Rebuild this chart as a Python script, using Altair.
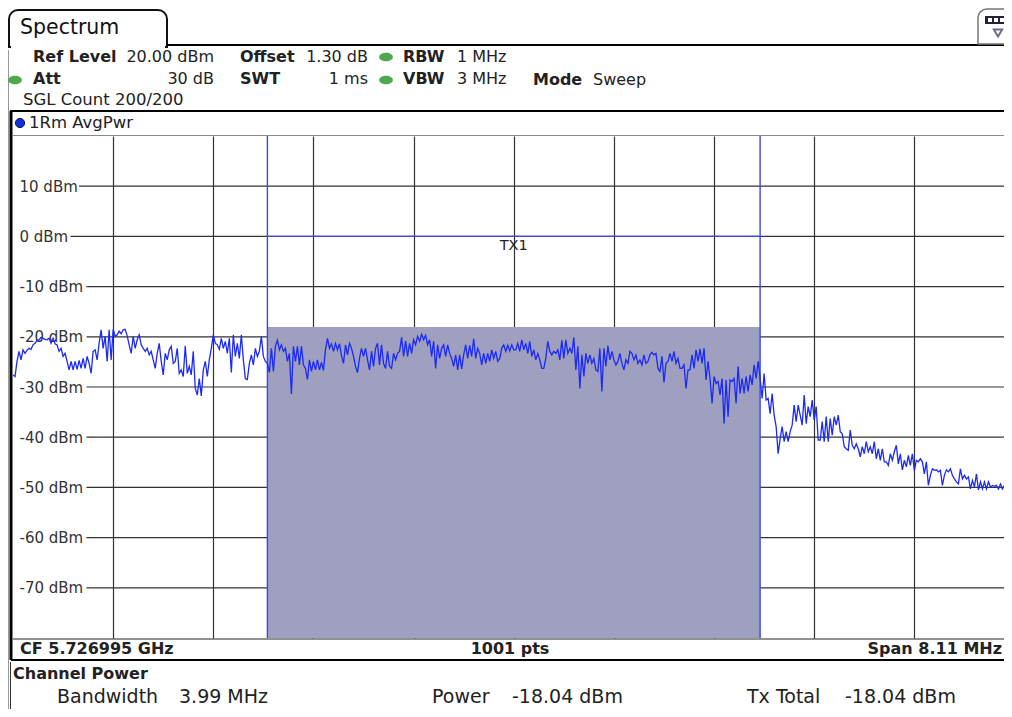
import altair as alt
import pandas as pd

# Sweep samples (every other one of the 1001 points), dBm
trace_a = [-27.6,-27.9,-24.9,-22.9,-24.6,-22.6,-23.3,-22.7,-22.3,-22.5,-21.6,-21.3,-20.7,-20.6,-20.1,-20.3,-20.5,-20.6,-20.3,-21.3,-20.3,-21.4,-21.6,-22.9,-22.3,-23.9,-23.3,-24.9,-26.6,-24.9,-26.6,-24.9,-26.5,-24.7,-26.3,-24.3,-26.3,-23.9,-25.3,-27.3,-22.9,-22.6,-24.6,-21.3,-18.6,-22.3,-19.9,-24.9,-18.6,-24.6,-18.5,-19.9,-19.6,-18.9,-19.4,-18.6,-18.5,-19.8,-21.6,-23.3,-19.9,-22.3,-20.6,-19.6,-21.6,-22.3,-22.9,-22.3,-23.6,-22.9,-24.6,-26.3,-23.3,-21.3,-24.9,-27.6,-23.3,-24.6,-22.6,-21.9,-25.3,-24.9,-22.3,-27.3,-26.6,-27.9]
trace_b = [-21.8,-27.3,-25.9,-27.6,-22.9,-30.3,-31.6,-28.3,-31.8,-26.6,-24.9,-27.9,-24.6,-22.3,-19.6,-21.3,-21.6,-22.5,-20.3,-22.3,-20.9,-23.3,-20.3,-27.1,-19.6,-23.9,-21.3,-24.3,-19.6,-24.6,-28.3,-28.5,-25.3,-23.6,-25.6,-22.3,-23.9,-22.9,-19.9,-23.9,-24.9,-25.3,-27.1,-22.3,-26.9,-21.9,-20.7,-22.6,-21.6,-22.9,-22.3,-24.9,-23.3,-31.4,-21.9,-24.9,-21.9,-25.6,-21.9,-25.6,-26.3,-28.5,-24.6,-26.9,-24.9,-26.6,-24.6,-26.6,-25.1,-26.7,-22.6,-20.3,-22.3,-21.4,-22.9,-21.3,-22.6,-21.4,-23.8,-25.3,-21.6,-23.6,-21.3]
trace_c = [-22.3,-23.9,-25.9,-27.1,-24.3,-22.3,-23.9,-22.3,-24.6,-26.6,-22.9,-25.9,-22.3,-21.3,-25.6,-21.6,-25.3,-26.3,-22.9,-25.9,-26.3,-23.3,-24.6,-23.3,-22.9,-20.1,-23.9,-20.8,-23.9,-21.3,-23.3,-20.6,-21.6,-19.9,-20.9,-19.5,-20.6,-19.7,-21.6,-20.6,-23.9,-20.9,-26.3,-21.6,-24.3,-22.3,-21.6,-23.9,-21.6,-23.3,-24.3,-25.9,-23.6,-26.6,-23.6,-26.4,-23.6,-21.6,-24.3,-21.7,-23.9,-20.4,-24.3,-22.3,-23.3,-25.6,-23.3,-25.3,-23.3,-24.9,-22.6,-24.3,-22.9,-24.9,-24.3,-22.3,-21.6,-22.9,-21.7,-22.8,-21.6,-22.6]
trace_d = [-22.6,-21.3,-22.9,-20.6,-22.6,-21.3,-23.3,-20.9,-23.9,-22.6,-24.6,-23.3,-24.6,-26.3,-26.3,-24.3,-20.9,-22.9,-23.6,-22.9,-23.3,-22.6,-24.6,-20.7,-24.3,-20.6,-23.3,-22.3,-23.3,-20.1,-26.6,-21.9,-30.3,-23.6,-27.9,-23.3,-25.3,-23.6,-25.3,-24.3,-26.6,-26.9,-22.3,-30.9,-22.3,-25.9,-21.8,-24.6,-22.9,-24.6,-25.6,-24.9,-23.3,-25.3,-26.6,-24.6,-25.3,-22.9,-23.3,-24.6,-23.6,-25.3,-24.6,-25.6,-23.6,-25.3,-24.9,-23.6,-23.1,-23.6,-23.3,-26.3,-26.9,-23.9,-29.1,-25.3,-24.9,-23.3,-24.9,-22.9,-25.3,-24.3,-26.3]
trace_e = [-26.3,-25.6,-30.3,-26.6,-26.6,-23.6,-26.3,-22.6,-24.9,-22.4,-25.3,-22.3,-28.6,-24.9,-28.3,-33.3,-27.9,-29.3,-28.9,-31.6,-28.3,-37.3,-28.6,-35.9,-28.6,-28.9,-28.3,-33.3,-25.9,-31.3,-28.3,-31.3,-27.9,-30.9,-27.6,-29.6,-25.6,-28.3,-24.9,-28.3,-32.3,-27.3,-32.6,-32.3,-35.3,-31.3,-35.6,-37.9,-43.3,-40.3,-37.9,-40.9,-38.9,-40.9,-38.9,-37.6,-33.6,-36.9,-33.6,-35.6,-37.6,-31.6,-37.3,-33.9,-35.9,-32.6,-36.6,-33.9,-40.6,-40.6,-36.9,-40.9,-35.9,-40.9,-36.3,-39.6,-35.9,-37.6,-35.6,-38.9,-39.3,-41.9]
trace_f = [-42.3,-42.6,-38.6,-41.6,-42.3,-41.3,-42.3,-43.9,-41.9,-43.3,-40.9,-42.9,-41.9,-43.3,-40.9,-44.3,-42.3,-44.6,-42.3,-44.9,-44.9,-45.6,-43.3,-44.6,-42.9,-41.6,-45.3,-43.3,-46.5,-44.6,-45.9,-43.6,-45.6,-43.3,-46.6,-44.6,-44.9,-44.3,-44.9,-47.3,-44.9,-49.6,-47.6,-46.3,-46.6,-46.5,-46.9,-46.6,-49.6,-47.6,-46.5,-46.9,-46.3,-47.6,-48.3,-48.9,-49.3,-46.3,-48.3,-47.6,-48.3,-47.9,-50.3,-48.6,-49.9,-47.3,-50.5,-48.9,-50.3,-48.9,-50.3,-48.9,-49.9,-49.6,-49.8,-49.6,-50.3,-49.3,-50.3,-49.6,-50.3,-49.9,-50.9,-50.3]

levels_dbm = [10, 0, -10, -20, -30, -40, -50, -60, -70]
grid_from_mhz = [-3.52, -3.59, -3.46, -3.46, -3.46, -3.46, -3.46, -3.46, -3.46]
freq_grid_mhz = [-3.244, -2.433, -1.622, -0.811, 0, 0.811, 1.622, 2.433, 3.244]

SPAN_MHZ = 8.11
CHANNEL_MHZ = 3.99
CHANNEL_POWER = -18.04

trace = trace_a + trace_b + trace_c + trace_d + trace_e + trace_f
df = pd.DataFrame({
    "f": [-SPAN_MHZ / 2 + i * SPAN_MHZ / 1000 * 2 for i in range(len(trace))],
    "p": trace,
})
grid_df = pd.DataFrame({"y": levels_dbm, "x": grid_from_mhz, "x2": [4.1] * len(levels_dbm)})

FONT = "DejaVu Sans"
BLUE = "#1c2af5"
GRID = "#333333"
X = alt.X("x:Q", scale=alt.Scale(domain=[-4.055, 3.970], nice=False, zero=False),
          axis=alt.Axis(values=freq_grid_mhz, labels=False, ticks=False, domain=False, title=None,
                        grid=True, gridColor=GRID, gridWidth=1.2))
Y = alt.Y("y:Q", scale=alt.Scale(domain=[-80, 20], nice=False, zero=False),
          axis=alt.Axis(values=levels_dbm, labelExpr="datum.value + ' dBm'", labelAlign="left",
                        labelBaseline="middle", labelPadding=-6, ticks=False, domain=False,
                        grid=False, title=None, labelFont=FONT, labelFontSize=15, labelColor="#333333"))
OX, OY = 13, 136
RIGHT = 1004
ONE = alt.Data(values=[{"a": 1}])


def px(v):
    return alt.value(v - OX)


def py(v):
    return alt.value(v - OY)


def txt(s, x, y, size=16, bold=False, align="left", color="#222222"):
    return alt.Chart(ONE).mark_text(text=s, font=FONT, fontSize=size, align=align, baseline="middle",
                                    fontWeight="bold" if bold else "normal", color=color).encode(x=px(x), y=py(y))


def line(x, y, x2=None, y2=None, color="#000000", w=2):
    enc = dict(x=px(x), y=py(y))
    if x2 is not None:
        enc["x2"] = px(x2)
    if y2 is not None:
        enc["y2"] = py(y2)
    return alt.Chart(ONE).mark_rule(color=color, strokeWidth=w).encode(**enc)


def box(x, y, x2, y2, fill, stroke=None, w=0, r=0):
    kw = dict(fill=fill, strokeWidth=w)
    if stroke:
        kw["stroke"] = stroke
    if r:
        kw["cornerRadiusTopLeft"] = r
        kw["cornerRadiusTopRight"] = r
    return alt.Chart(ONE).mark_rect(**kw).encode(x=px(x), x2=px(x2), y=py(y), y2=py(y2))


def dot(x, y, color, size=190):
    return alt.Chart(ONE).mark_point(shape="M -1 0 A 1 0.62 0 1 1 1 0 A 1 0.62 0 1 1 -1 0 Z", size=size, filled=True,
                                     color=color, opacity=1).encode(x=px(x), y=py(y))


base = alt.Chart(grid_df).mark_rule(color=GRID, strokeWidth=1.2).encode(
    x=X, x2="x2:Q", y=Y)

channel = alt.Chart(pd.DataFrame({"x": [-CHANNEL_MHZ / 2], "x2": [CHANNEL_MHZ / 2], "y": [CHANNEL_POWER], "y2": [-80]})).mark_rect(
    color="#9f9fbf", opacity=1).encode(x="x:Q", x2="x2:Q", y="y:Q", y2="y2:Q")

channel_edges = alt.Chart(pd.DataFrame({"x": [-CHANNEL_MHZ / 2, CHANNEL_MHZ / 2]})).mark_rule(
    color="#3a48e8", strokeWidth=1.4).encode(x="x:Q")

tx_line = alt.Chart(pd.DataFrame({"x": [-CHANNEL_MHZ / 2], "x2": [CHANNEL_MHZ / 2], "y": [0]})).mark_rule(
    color="#3a48e8", strokeWidth=1.2).encode(x="x:Q", x2="x2:Q", y="y:Q")

tx_label = alt.Chart(pd.DataFrame({"x": [0], "y": [-2]})).mark_text(
    text="TX1", font=FONT, fontSize=14.5, color="#222222", baseline="middle").encode(x="x:Q", y="y:Q")

curve = alt.Chart(df).mark_line(color=BLUE, strokeWidth=1.3, clip=True, interpolate="linear").encode(x="f:Q", y=alt.Y("p:Q"))

layers = [
    base, channel, channel_edges, tx_line, tx_label, curve,
    # frame of the screen
    box(9, 10, 167, 47, "#ffffff", "#111111", 2, 9),
    box(11, 43, 165, 50, "#ffffff"),
    line(166, 45, RIGHT, 45),
    txt("Spectrum", 20, 28, size=20.5, color="#111111"),
    box(978, 9, 1030, 44, "#ffffff", "#777777", 1.5, 9),
    box(985, 16, RIGHT, 24, "#22223a"),
    box(988, 18, 992, 22, "#ffffff"),
    box(994, 18, 998, 22, "#ffffff"),
    box(1000, 18, 1004, 22, "#ffffff"),
    alt.Chart(ONE).mark_point(shape="triangle-down", size=70, color="#333355", filled=False).encode(x=px(998), y=py(33)),
    line(10, 111, RIGHT, 111),
    line(13, 135.5, RIGHT, 135.5, color="#8a8a8a", w=1),
    line(11, 111, 11, 660, w=3),
    line(8.5, 50, 8.5, 709, color="#999999", w=1),
    line(11, 660, RIGHT, 660),
    line(13, 639, RIGHT, 639, color="#222222", w=1),
    line(10.5, 662, 10.5, 709, color="#333333", w=1),
    # settings
    txt("Ref Level", 33, 57, bold=True),
    txt("20.00 dBm", 214, 57, align="right"),
    txt("Offset", 240, 57, bold=True),
    txt("1.30 dB", 368, 57, align="right"),
    txt("RBW", 403, 57, bold=True),
    txt("1 MHz", 457, 57),
    txt("Att", 33, 79, bold=True),
    txt("30 dB", 214, 79, align="right"),
    txt("SWT", 240, 79, bold=True),
    txt("1 ms", 368, 79, align="right"),
    txt("VBW", 403, 79, bold=True),
    txt("3 MHz", 457, 79),
    txt("Mode", 533, 80, bold=True),
    txt("Sweep", 593, 80),
    txt("SGL Count 200/200", 23, 100, size=16.5),
    txt("1Rm AvgPwr", 29, 123, size=16.5),
    dot(15, 80, "#4fa84f"),
    dot(386, 57, "#4fa84f"),
    dot(386, 80, "#4fa84f"),
    alt.Chart(ONE).mark_point(shape="circle", size=85, filled=True, color="#1030e0", stroke="#111144",
                              strokeWidth=1, opacity=1).encode(x=px(20), y=py(123)),
    # footer
    txt("CF 5.726995 GHz", 20, 649, bold=True),
    txt("1001 pts", 510, 649, bold=True, align="center"),
    txt("Span 8.11 MHz", 1002, 649, bold=True, align="right"),
    txt("Channel Power", 13, 674, bold=True),
    txt("Bandwidth", 57, 697, size=19),
    txt("3.99 MHz", 179, 697, size=19),
    txt("Power", 432, 697, size=19),
    txt("-18.04 dBm", 512, 697, size=19),
    txt("Tx Total", 747, 697, size=19),
    txt("-18.04 dBm", 845, 697, size=19),
]

chart = alt.layer(*layers).properties(
    width=991, height=502,
    autosize=alt.AutoSizeParams(type="none"),
    padding={"left": 5, "top": 128, "right": 0, "bottom": 71},
).configure_view(stroke=None).configure_axis(labelOverlap=False)

chart.save("out.html", embed_options={"renderer": "svg", "actions": False})
